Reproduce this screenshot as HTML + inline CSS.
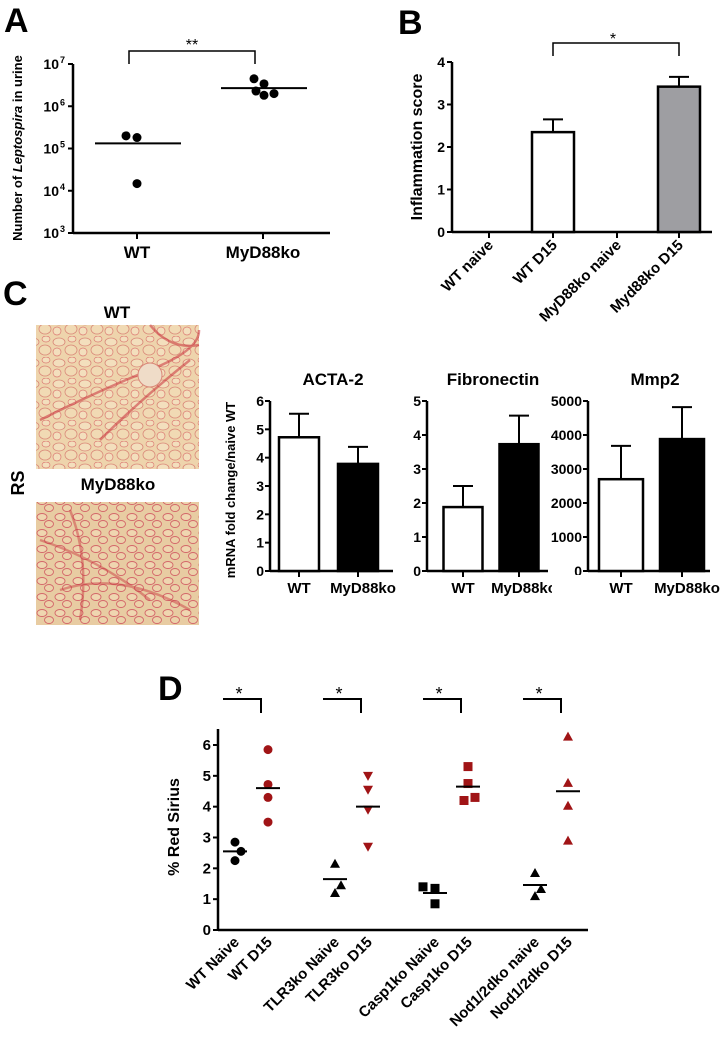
<!DOCTYPE html>
<html><head><meta charset="utf-8"><style>
html,body{margin:0;padding:0;background:#fff}
svg{display:block;font-family:"Liberation Sans",Arial,sans-serif;font-weight:bold}
</style></head><body>
<svg id="fig" width="727" height="1043" viewBox="0 0 727 1043" xmlns="http://www.w3.org/2000/svg">
<defs>
<pattern id="tis" width="26" height="21" patternUnits="userSpaceOnUse">
<rect width="26" height="21" fill="#eed4ac"/>
<ellipse cx="7" cy="6" rx="6" ry="4" fill="#f3dfbd" stroke="#d98878" stroke-width="0.8"/>
<ellipse cx="19" cy="14" rx="6" ry="5" fill="#f1dab4" stroke="#d98878" stroke-width="0.8"/>
<ellipse cx="5" cy="16" rx="4" ry="4" fill="#f3dfbd" stroke="#dc7a72" stroke-width="0.7"/>
<ellipse cx="20" cy="3" rx="4" ry="3" fill="#f3dfbd" stroke="#dc7a72" stroke-width="0.7"/>
</pattern>
<pattern id="tis2" width="18" height="16" patternUnits="userSpaceOnUse">
<rect width="18" height="16" fill="#e8cca2"/>
<ellipse cx="6" cy="5" rx="5" ry="3.5" fill="#efd6b0" stroke="#d4676a" stroke-width="0.9"/>
<ellipse cx="13" cy="12" rx="4.5" ry="3.5" fill="#ecd2aa" stroke="#d4676a" stroke-width="0.9"/>
</pattern>
</defs>
<text x="4" y="32" font-size="34">A</text>
<text x="398" y="34" font-size="34">B</text>
<text x="3" y="305" font-size="34">C</text>
<text x="158" y="700" font-size="34">D</text>
<g>
<text x="117" y="318" font-size="17" text-anchor="middle">WT</text>
<rect x="36" y="325" width="163" height="144" fill="url(#tis)"/>
<path d="M40 420 Q100 390 150 370 T199 330 M100 440 Q140 400 190 360 M150 325 Q170 350 199 345" stroke="#c8303a" stroke-width="2.5" fill="none" opacity="0.55"/>
<circle cx="150" cy="375" r="12" fill="#efdcc8" stroke="#d98878"/>
<text x="118" y="490" font-size="17" text-anchor="middle">MyD88ko</text>
<rect x="36" y="502" width="163" height="123" fill="url(#tis2)"/>
<path d="M40 540 Q100 560 150 600 M60 590 Q120 570 190 610 M70 510 Q90 560 80 620" stroke="#c8303a" stroke-width="2.5" fill="none" opacity="0.45"/>
<text transform="translate(24,483) rotate(-90)" font-size="18" text-anchor="middle">RS</text>
</g>
<g id="gA"></g>
<g id="gB"></g>
<g id="gC"></g>
<g id="gD"></g>
</svg>
<script>
// Panel A data (log10 values)
const aCats = ["WT","MyD88ko"];
const aPtsWT = [5.3, 5.26, 4.17];
const aPtsKO = [6.65, 6.53, 6.36, 6.26, 6.3];
const aMedians = [5.12, 6.43];
const aTicks = [3,4,5,6,7];
// Panel B data
const bCats = ["WT naive","WT D15","MyD88ko naive","Myd88ko D15"];
const bVals = [0, 2.35, 0, 3.42];
const bErr = [0, 2.65, 0, 3.65];
const bTicks = [0,1,2,3,4];
// Panel C data
const cTitles = ["ACTA-2","Fibronectin","Mmp2"];
const cCats = ["WT","MyD88ko"];
const cVals1 = [4.72, 3.78], cErr1 = [5.55, 4.38], cTicks1 = [0,1,2,3,4,5,6];
const cVals2 = [1.88, 3.73], cErr2 = [2.5, 4.57], cTicks2 = [0,1,2,3,4,5];
const cVals3 = [2700, 3880], cErr3 = [3680, 4820], cTicks3 = [0,1000,2000,3000,4000,5000];
// Panel D data
const dCats = ["WT Naive","WT D15","TLR3ko Naive","TLR3ko D15","Casp1ko Naive","Casp1ko D15","Nod1/2dko naive","Nod1/2dko D15"];
const dPts = [[2.85,2.55,2.25],[5.85,4.72,4.3,3.5],[2.15,1.45,1.2],[5.0,4.55,3.9,2.7],[1.4,1.35,0.85],[5.3,4.75,4.3,4.2],[1.85,1.33,1.1],[6.27,4.77,4.03,2.9]];
const dMeans = [2.55,4.6,1.65,4.0,1.2,4.65,1.46,4.5];
const dShapes = ["circle","circle","tri","tridown","square","square","tri","tri"];
const dTicks = [0,1,2,3,4,5,6];

const NS="http://www.w3.org/2000/svg";
function mk(p,t,a,txt){const e=document.createElementNS(NS,t);for(const k in a)e.setAttribute(k,a[k]);if(txt!==undefined)e.textContent=txt;p.appendChild(e);return e;}
function ln(p,x1,y1,x2,y2,w){return mk(p,"line",{x1,y1,x2,y2,stroke:"#000","stroke-width":w||2});}

// ---- Panel A
(function(){
 const g=document.getElementById("gA");
 const x0=73,x1=330,yTop=64,yBot=233;
 const y=v=>yBot-(v-3)*(yBot-yTop)/4;
 const xc=[137,263];
 ln(g,x0,yTop,x0,yBot+1,2.5);ln(g,x0,yBot,x1,yBot,2.5);
 aTicks.forEach(t=>{ln(g,x0-5,y(t),x0,y(t),2);
  const tx=mk(g,"text",{x:x0-14,y:y(t)+5,"font-size":14,"text-anchor":"end"},"10");
  
  
  mk(g,"text",{x:x0-13,y:y(t)-1,"font-size":9},String(t));});
 aCats.forEach((c,i)=>{ln(g,xc[i],yBot,xc[i],yBot+6,2);
  const tx=mk(g,"text",{x:xc[i],y:yBot+25,"font-size":17,"text-anchor":"middle"},c);
  
  });
 aPtsWT.forEach((v,i)=>{const c=mk(g,"circle",{cx:xc[0]+[-11,0,0][i],cy:y(v),r:4.5,fill:"#000"});
  
  });
 aPtsKO.forEach((v,i)=>{const c=mk(g,"circle",{cx:xc[1]+[-9,1,-7,1,11][i],cy:y(v),r:4.5,fill:"#000"});
  
  });
 aMedians.forEach((m,i)=>{const l=ln(g,xc[i]-42,y(m),xc[i]+44,y(m),2);
  
  });
 const b=mk(g,"path",{d:`M129 64 V51 H255 V64`,fill:"none",stroke:"#000","stroke-width":1.5});
 
 
 mk(g,"text",{x:192,y:50,"font-size":16,"text-anchor":"middle","font-weight":"normal"},"**");
 const t=mk(g,"text",{transform:"translate(22,148) rotate(-90)","font-size":13,"text-anchor":"middle"});
 
 
 t.innerHTML='Number of <tspan font-style="italic">Leptospira</tspan> in urine';
})();

// ---- Panel B
(function(){
 const g=document.getElementById("gB");
 const x0=452,x1=712,yTop=62,yBot=232;
 const y=v=>yBot-v*(yBot-yTop)/4;
 const xc=[489,553,617,679],bw=42;
 ln(g,x0,yTop,x0,yBot+1,2.5);ln(g,x0,yBot,x1,yBot,2.5);
 bTicks.forEach(t=>{ln(g,x0-5,y(t),x0,y(t),2);
  const tx=mk(g,"text",{x:x0-7,y:y(t)+5,"font-size":14,"text-anchor":"end"},String(t));
  
  });
 bCats.forEach((c,i)=>{ln(g,xc[i],yBot,xc[i],yBot+6,2);
  if(bVals[i]>0){
   ln(g,xc[i],y(bVals[i]),xc[i],y(bErr[i]),2);ln(g,xc[i]-10,y(bErr[i]),xc[i]+10,y(bErr[i]),2);
   const r=mk(g,"rect",{x:xc[i]-bw/2,y:y(bVals[i]),width:bw,height:yBot-y(bVals[i]),fill:i==3?"#9e9ea2":"#fff",stroke:"#000","stroke-width":2.5});
   
   }
  const tx=mk(g,"text",{transform:`translate(${xc[i]+5},${yBot+14}) rotate(-45)`,"font-size":15,"text-anchor":"end"},c);
  
  });
 const b=mk(g,"path",{d:`M553 56 V43 H679 V56`,fill:"none",stroke:"#000","stroke-width":1.5});
 
 
 mk(g,"text",{x:613,y:44,"font-size":16,"text-anchor":"middle","font-weight":"normal"},"*");
 const t=mk(g,"text",{transform:"translate(422,147) rotate(-90)","font-size":16,"text-anchor":"middle"},"Inflammation score");
 
 
})();

// ---- Panel C
(function(){
 const g=document.getElementById("gC");
 const yTop=401,yBot=571;
 const specs=[
  {x0:270,x1:393,xc:[299,358],bw:40,vals:cVals1,err:cErr1,ticks:cTicks1,max:6,tx:333},
  {x0:427,x1:548,xc:[463,519],bw:39,vals:cVals2,err:cErr2,ticks:cTicks2,max:5,tx:493},
  {x0:588,x1:710,xc:[621,682],bw:44,vals:cVals3,err:cErr3,ticks:cTicks3,max:5000,tx:655}];
 specs.forEach((s,k)=>{
  const y=v=>yBot-v*(yBot-yTop)/s.max;
  ln(g,s.x0,yTop,s.x0,yBot+1,2.5);ln(g,s.x0,yBot,s.x1,yBot,2.5);
  s.ticks.forEach(t=>{ln(g,s.x0-5,y(t),s.x0,y(t),2);
   const tx=mk(g,"text",{x:s.x0-6,y:y(t)+5,"font-size":14,"text-anchor":"end"},String(t));
   
   });
  cCats.forEach((c,i)=>{
   ln(g,s.xc[i],yBot,s.xc[i],yBot+6,2);
   ln(g,s.xc[i],y(s.vals[i]),s.xc[i],y(s.err[i]),2);ln(g,s.xc[i]-10,y(s.err[i]),s.xc[i]+10,y(s.err[i]),2);
   const r=mk(g,"rect",{x:s.xc[i]-s.bw/2,y:y(s.vals[i]),width:s.bw,height:yBot-y(s.vals[i]),fill:i?"#000":"#fff",stroke:"#000","stroke-width":2.5});
   
   
   const tx=mk(g,"text",{x:s.xc[i]+(i?5:0),y:yBot+22,"font-size":15,"text-anchor":"middle"},c);
   
   });
  const tt=mk(g,"text",{x:s.tx,y:385,"font-size":17,"text-anchor":"middle"},cTitles[k]);
  
  
 });
 mk(g,"rect",{x:552,y:575,width:34,height:30,fill:"#fff"});
 const t=mk(g,"text",{transform:"translate(235,490) rotate(-90)","font-size":13,"text-anchor":"middle"},"mRNA fold change/naive WT");
 
 
})();

// ---- Panel D
(function(){
 const g=document.getElementById("gD");
 const x0=218,x1=588,yTop=729,yBot=930;
 const y=v=>yBot-v*(yBot-745)/6;
 const xc=[235,268,335,368,435,468,535,568];
 const jit=[[0,6,0],[0,0,0,0],[0,6,0],[0,0,0,0],[-12,0,0],[0,0,7,-4],[0,6,0],[0,0,0,0]];
 ln(g,x0,yTop,x0,yBot+1,2.5);ln(g,x0,yBot,x1,yBot,2.5);
 dTicks.forEach(t=>{ln(g,x0-5,y(t),x0,y(t),2);
  const tx=mk(g,"text",{x:x0-7,y:y(t)+5,"font-size":15,"text-anchor":"end"},String(t));
  
  });
 dCats.forEach((c,i)=>{
  const col=i%2?"#a01416":"#000";
  dPts[i].forEach((v,j)=>{
   const cx=xc[i]+jit[i][j],cy=y(v);let e;
   if(dShapes[i]=="circle")e=mk(g,"circle",{cx,cy,r:4.5,fill:col});
   else if(dShapes[i]=="square")e=mk(g,"rect",{x:cx-4.5,y:cy-4.5,width:9,height:9,fill:col});
   else if(dShapes[i]=="tri")e=mk(g,"polygon",{points:`${cx},${cy-5} ${cx-5},${cy+4} ${cx+5},${cy+4}`,fill:col});
   else e=mk(g,"polygon",{points:`${cx},${cy+5} ${cx-5},${cy-4} ${cx+5},${cy-4}`,fill:col});
   
   
  });
  const m=ln(g,xc[i]-12,y(dMeans[i]),xc[i]+12,y(dMeans[i]),2);
  
  
  const tx=mk(g,"text",{transform:`translate(${xc[i]+5},${yBot+13}) rotate(-45)`,"font-size":15,"text-anchor":"end"},c);
  
  
  if(i%2==1){
   const b=mk(g,"path",{d:`M${xc[i]-45} 699 H${xc[i]-7} V713`,fill:"none",stroke:"#000","stroke-width":2});
   
   
   mk(g,"text",{x:xc[i]-29,y:700,"font-size":18,"text-anchor":"middle","font-weight":"normal"},"*");
  }
 });
 const t=mk(g,"text",{transform:"translate(179,827) rotate(-90)","font-size":16,"text-anchor":"middle"},"% Red Sirius");
 
 
})();
</script>
</body></html>
